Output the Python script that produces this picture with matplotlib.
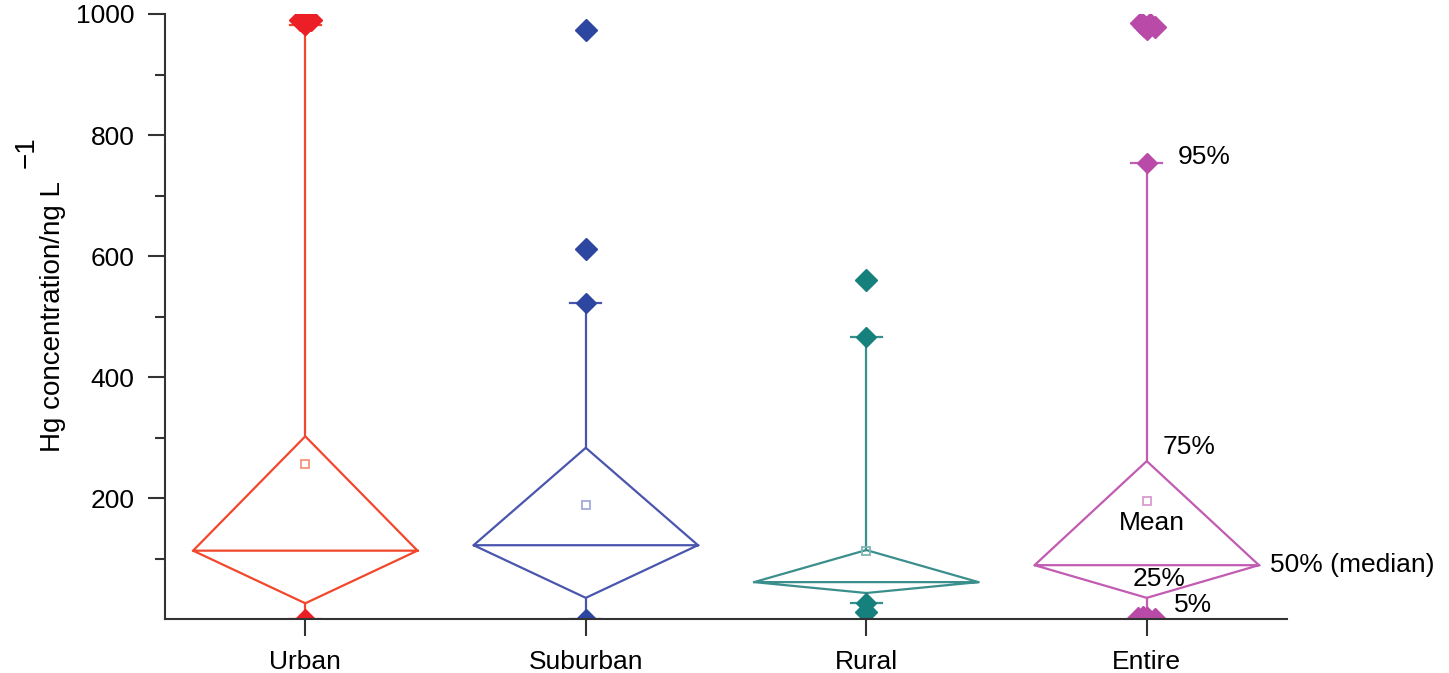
import matplotlib
matplotlib.use("Agg")
import matplotlib.pyplot as plt
import numpy as np

plt.rcParams['font.family'] = ['Liberation Sans', 'DejaVu Sans']

# percentile summary (ng/L)
groups = ['Urban', 'Suburban', 'Rural', 'Entire']
p5 = [0, 0, 26, 3]
p25 = [26, 35, 43, 35]
p50 = [113, 122, 61, 89]
p75 = [302, 283, 114, 261]
p95 = [982, 522, 466, 754]
means = [257, 188, 112, 195]
# outliers: values and a small horizontal spread where they pile up
out_vals = [[990, 990, 984],
            [611, 973],
            [12, 560],
            [985, 983, 978, 976, 980, 2, 1, 0, 3]]
out_dx = [[-0.02, 0.02, 0.0],
          [0, 0],
          [0, 0],
          [-0.02, 0.01, 0.03, 0.0, -0.01, -0.03, 0.0, 0.03, -0.015]]

line_cols = ['#F2472C', '#4A55AE', '#3A8E8C', '#C25BB2']
mark_cols = ['#EC1F27', '#2D46A0', '#16807C', '#B94AA8']
mean_cols = ['#F59478', '#A3A9D9', '#7FB5B3', '#D99BCB']

fig = plt.figure(figsize=(14.49, 6.73), dpi=100)
ax = fig.add_axes([0.1139, 0.0802, 0.7743, 0.899])

hw = 0.4   # half width of the kite
cap = 0.055
for i in range(len(groups)):
    c = line_cols[i]
    kx = [i - hw, i, i + hw, i, i - hw, i + hw]
    ky = [p50[i], p75[i], p50[i], p25[i], p50[i], p50[i]]
    ax.plot(kx, ky, color=c, lw=1.6, solid_joinstyle='miter')
    ax.plot([i, i], [p75[i], p95[i]], color=c, lw=1.6)
    ax.plot([i, i], [p25[i], p5[i]], color=c, lw=1.6)
    ax.plot([i - cap, i + cap], [p95[i], p95[i]], color=c, lw=1.6)
    ax.plot([i - cap, i + cap], [p5[i], p5[i]], color=c, lw=1.6)
    ax.plot([i, i], [p95[i], p5[i]], ls='none', marker='D', ms=10,
            color=mark_cols[i], mec=mark_cols[i])
    ax.plot(i + np.array(out_dx[i]), out_vals[i], ls='none', marker='D', ms=11.5,
            color=mark_cols[i], mec=mark_cols[i])
    ax.plot(i, means[i], ls='none', marker='s', ms=6, mfc='none',
            mec=mean_cols[i], mew=1.3)

# labels on the Entire kite
fs = 19
ax.text(3.11, 764, '95%', fontsize=fs, va='center', ha='left')
ax.text(3.057, 284, '75%', fontsize=fs, va='center', ha='left')
ax.text(3.018, 159, 'Mean', fontsize=fs, va='center', ha='center')
ax.text(3.439, 89, '50% (median)', fontsize=fs, va='center', ha='left')
ax.text(3.043, 66, '25%', fontsize=fs, va='center', ha='center')
ax.text(3.096, 23, '5%', fontsize=fs, va='center', ha='left')

ax.set_xlim(-0.5, 3.5)
ax.set_ylim(0, 1000)
ax.set_xticks(range(len(groups)))
ax.set_xticklabels(groups)
ax.set_yticks([200, 400, 600, 800, 1000])
ax.set_yticks([100, 300, 500, 700, 900], minor=True)
for s in ['top', 'right']:
    ax.spines[s].set_visible(False)
for s in ['left', 'bottom']:
    ax.spines[s].set_linewidth(1.5)
    ax.spines[s].set_color('#333333')
ax.tick_params(axis='both', which='major', length=12, width=1.5,
               color='#333333', labelsize=fs)
ax.tick_params(axis='y', which='major', pad=10)
ax.tick_params(axis='x', which='major', pad=10)
ax.tick_params(axis='y', which='minor', length=7, width=1.5, color='#333333')

fig.text(53 / 1449, 1 - 317 / 673, 'Hg concentration/ng L', rotation=90,
         fontsize=20, ha='center', va='center')
fig.text(27 / 1449, 1 - 152 / 673, '\u22121', rotation=90,
         fontsize=20, ha='center', va='center')

fig.savefig('out.png', dpi=100)
